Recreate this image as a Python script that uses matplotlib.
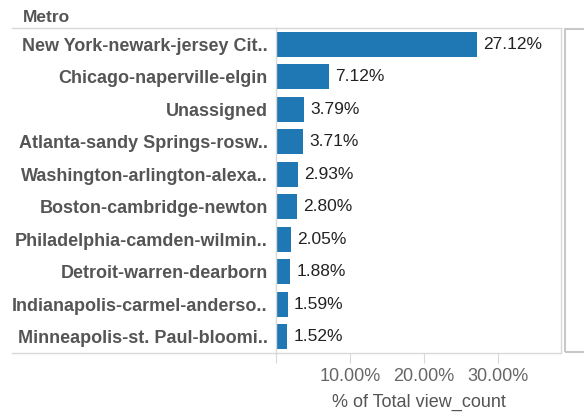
import matplotlib.pyplot as plt
from matplotlib.patches import Rectangle
from matplotlib.lines import Line2D

metros = ["New York-newark-jersey Cit..", "Chicago-naperville-elgin", "Unassigned",
          "Atlanta-sandy Springs-rosw..", "Washington-arlington-alexa..",
          "Boston-cambridge-newton", "Philadelphia-camden-wilmin..",
          "Detroit-warren-dearborn", "Indianapolis-carmel-anderso..",
          "Minneapolis-st. Paul-bloomi.."]
share = [27.12, 7.12, 3.79, 3.71, 2.93, 2.80, 2.05, 1.88, 1.59, 1.52]
ticks = [10, 20, 30]
tick_labels = ["10.00%", "20.00%", "30.00%"]

plt.rcParams['font.family'] = ['Liberation Sans', 'DejaVu Sans']
W, H = 584, 412
fig = plt.figure(figsize=(W / 100, H / 100), dpi=100)
L, R, T, B = 276, 561, 28, 353
ax = fig.add_axes([L / W, 1 - B / H, (R - L) / W, (B - T) / H])

grid = '#d9d9d9'
blue = '#1f77b4'
ypos = list(range(len(metros)))
ax.barh(ypos, share, height=0.76, color=blue)
ax.set_ylim(len(metros) - 0.5, -0.5)
ax.set_xlim(0, 38.5)

for y, v in zip(ypos, share):
    ax.annotate(f"{v:.2f}%", (v, y), xytext=(4.5, 0), textcoords='offset points',
                va='center', ha='left', fontsize=12.5, color='#222222')

ax.set_yticks(ypos)
ax.set_yticklabels(metros, fontsize=13, fontweight='bold', color='#555555')
ax.tick_params(axis='y', length=0, pad=6)
ax.set_xticks([0] + ticks)
ax.set_xticklabels([""] + tick_labels, fontsize=13, color='#666666')
ax.tick_params(axis='x', length=7, color=grid, pad=4)
ax.set_xlabel("% of Total view_count", fontsize=13, color='#555555', labelpad=6)

for s in ['top', 'bottom', 'left', 'right']:
    ax.spines[s].set_color(grid)
    ax.spines[s].set_linewidth(1)

# row header lines extending under the labels
for yy in (T, B):
    fig.add_artist(Line2D([12 / W, L / W], [1 - yy / H, 1 - yy / H], color=grid, lw=1))

fig.text(23 / W, 1 - 17 / H, "Metro", fontsize=12.5, fontweight='bold',
         color='#555555', va='center', ha='left')

# right-hand scroll box
fig.add_artist(Rectangle((565 / W, 1 - 352 / H), 30 / W, (352 - 29) / H,
                         transform=fig.transFigure, fill=False, ec='#c8c8c8', lw=1.5))

fig.savefig("out.png", dpi=100)
